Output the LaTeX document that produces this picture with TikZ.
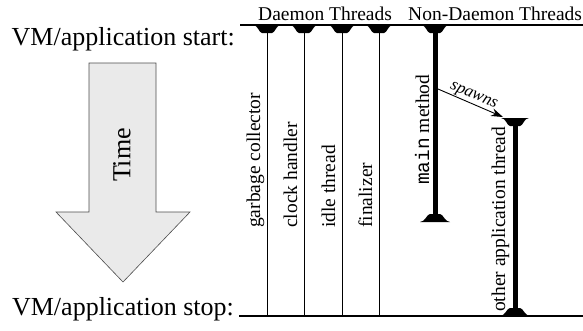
\documentclass[tikz,border=0pt]{standalone}
\usepackage{fontspec}
\setmainfont{Liberation Serif}
\setmonofont{Liberation Mono}
\usetikzlibrary{arrows.meta}
\definecolor{arrowgray}{HTML}{EAEAEA}
\newcommand\capdown[2]{% top cap hanging below y
  \fill (#1-14,#2) .. controls (#1-9,#2) and (#1-8,#2+8) .. (#1-5,#2+8) -- (#1+5,#2+8)
        .. controls (#1+8,#2+8) and (#1+9,#2) .. (#1+14,#2) -- cycle;}
\newcommand\capup[2]{% bottom cap standing on y
  \fill (#1-15,#2) .. controls (#1-10,#2) and (#1-8,#2-8) .. (#1-5,#2-8) -- (#1+5,#2-8)
        .. controls (#1+8,#2-8) and (#1+10,#2) .. (#1+15,#2) -- cycle;}
\begin{document}
\begin{tikzpicture}[x=1pt,y=-1pt,
  big/.style={font=\fontsize{26}{30}\selectfont, inner sep=0pt},
  thr/.style={font=\fontsize{19.5}{22}\selectfont, inner sep=0pt, rotate=90, anchor=base west},
  head/.style={font=\fontsize{19.5}{22}\selectfont, inner sep=0pt, anchor=base west},
  timeline/.style={line width=1.8pt},
  daemon/.style={line width=0.9pt},
  nondaemon/.style={line width=5pt},
  spawnarrow/.style={line width=0.9pt, -{Stealth[length=12pt,width=8pt]}},
]
\useasboundingbox (0,0) rectangle (583,330);
% time arrow
\draw[fill=arrowgray, draw=black!70, line width=0.6pt]
  (89,63) -- (156,63) -- (156,212) -- (190,212) -- (123,282) -- (56,212) -- (89,212) -- cycle;
\node[big, rotate=90] (time) at (122,155) {Time};
% start / stop
\node[big, anchor=base east] (start) at (235,45) {VM/application start:};
\node[big, anchor=base east] (stop) at (234,315) {VM/application stop:};
\coordinate (ts) at (240,25);
\coordinate (te) at (583,25);
\coordinate (bs) at (239,316);
\coordinate (be) at (583,316);
\draw[timeline] (ts) -- (te);
\draw[timeline] (bs) -- (be);
% headings
\node[head] (dh) at (258,20) {Daemon Threads};
\node[head] (nh) at (408,20) {Non-Daemon Threads};
% daemon threads
\foreach \x/\n/\t in {267/gc/garbage collector, 304/ch/clock handler, 342/it/idle thread, 379/fi/finalizer}{
  \coordinate (\n top) at (\x,25);
  \coordinate (\n bot) at (\x,316);
  \draw[daemon] (\n top) -- (\n bot);
  \capdown{\x}{25}
  \node[thr] (\n lab) at (\x-7,228) {\t};
}
% main thread
\coordinate (mtop) at (435,25);
\coordinate (mbot) at (435,220);
\draw[nondaemon] (mtop) -- (mbot);
\capdown{435}{25}
\capup{435}{222}
\node[thr] (mlab) at (429,185) {\texttt{main} method};
% other thread
\coordinate (otop) at (515,119);
\coordinate (obot) at (515,316);
\draw[nondaemon] (otop) -- (obot);
\capdown{515}{118}
\capup{515}{316}
\node[thr] (olab) at (505,312) {other application thread};
% spawns
\coordinate (sp1) at (438,89);
\coordinate (sp2) at (503,117);
\draw[spawnarrow] (sp1) -- node[sloped, above, inner sep=1pt, font=\fontsize{17}{20}\selectfont\itshape] (spl) {spawns} (sp2);
\end{tikzpicture}
\end{document}
